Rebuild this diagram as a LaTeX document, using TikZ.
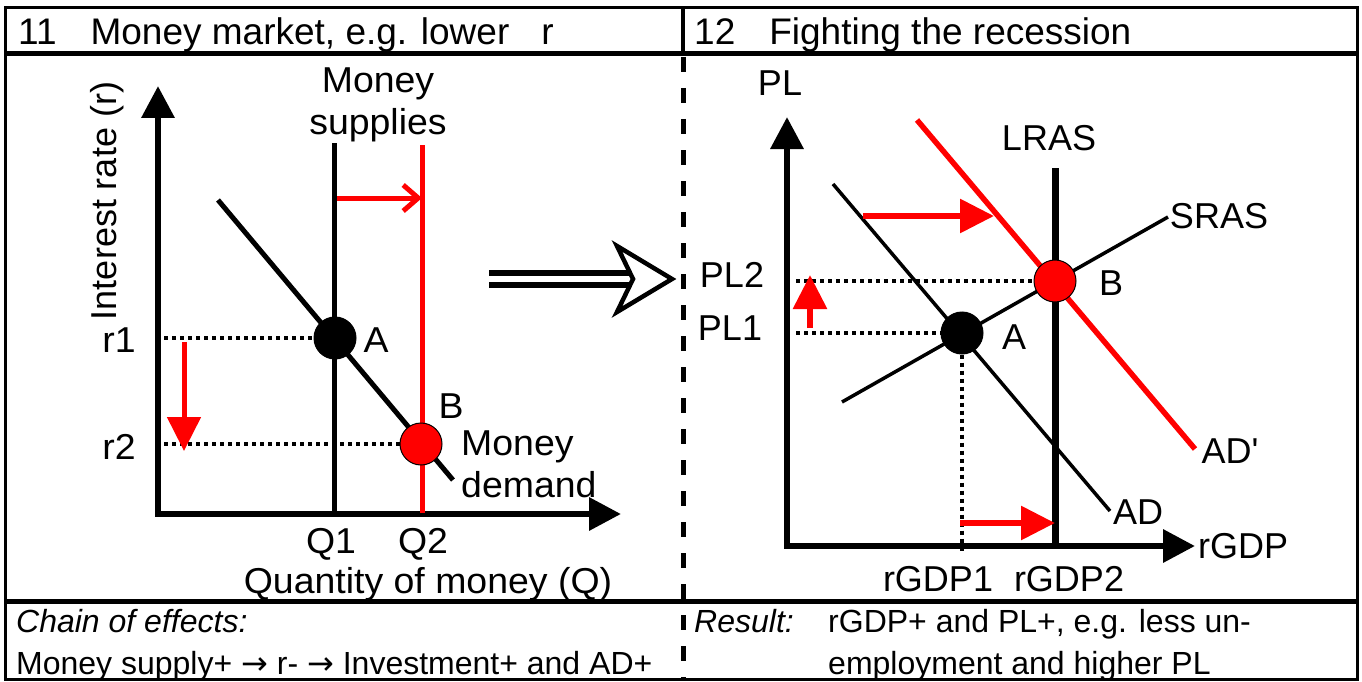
\documentclass[tikz,border=0pt]{standalone}
\usepackage{fontspec}
\setmainfont{Liberation Sans}
\newfontfamily\arrowfont{DejaVu Sans}
\usetikzlibrary{arrows.meta}
\definecolor{shiftred}{RGB}{255,0,0}
\tikzstyle{frameline}=[line width=3pt]
\tikzstyle{axisline}=[line width=6.5pt,-{Triangle[length=32pt,width=32pt]}]
\tikzstyle{thinline}=[line width=3.5pt]
\tikzstyle{thickline}=[line width=5pt]
\tikzstyle{guide}=[line width=3.5pt,dash pattern=on 4pt off 4pt]
\tikzstyle{shiftarrow}=[shiftred,line width=6pt,-{Triangle[length=34pt,width=33pt]}]
\tikzstyle{eqpoint}=[circle,draw=black,line width=1pt,minimum size=42pt,inner sep=0pt]
\tikzstyle{headtext}=[font=\fontsize{37}{44}\selectfont,inner sep=0pt,anchor=base west]
\tikzstyle{chartlabel}=[font=\fontsize{36}{42}\selectfont,inner sep=0pt]
\tikzstyle{widelabel}=[chartlabel,xscale=1.04]
\tikzstyle{notetext}=[font=\fontsize{32}{40}\selectfont,inner sep=0pt,anchor=base west]

\begin{document}
\begin{tikzpicture}[x=1pt,y=-1pt]

\fill[white] (0,0) rectangle (1362,682);
\useasboundingbox (0,0) rectangle (1362,682);

\draw[frameline] (5,8) rectangle (1357,679);
\draw[line width=5pt] (5,54) -- (1357,54);
\draw[line width=5pt] (5,601) -- (1357,601);
\draw[line width=4pt] (683,8) -- (683,54);
\draw[line width=5pt,dash pattern=on 15pt off 16pt] (683,57) -- (683,679);

\node[headtext] (title11) at (18,45) {11\hspace{34pt}Money market, e.g. lower\hspace{32pt}r};
\node[headtext] (title12) at (694,45) {12\hspace{34pt}Fighting the recession};

% money market
\coordinate (O1) at (158,514);
\coordinate (ytop1) at (158,86);
\coordinate (xend1) at (621,514);
\draw[axisline] ([yshift=3pt]O1) -- (ytop1);
\draw[axisline] ([xshift=-3pt]O1) -- (xend1);

\coordinate (ms1top) at (334,143);
\coordinate (ms2top) at (422,145);
\draw[line width=5pt] (ms1top) -- (ms1top |- O1);
\draw[shiftred,line width=5pt] (ms2top) -- ([yshift=1pt]ms2top |- O1);
\draw[thickline] (218,200) -- (453,480);

\node[eqpoint,fill=black] (A1) at (335,338) {};
\node[eqpoint,fill=shiftred] (B1) at (421,444) {};
\draw[guide] (A1 -| O1) ++(6,0) -- (A1);
\draw[guide] (B1 -| O1) ++(6,0) -- (B1);

\draw[shiftarrow,line width=5pt] (184,342) -- (184,451);
\draw[shiftred,line width=5pt,-{Straight Barb[length=15pt,width=26pt]}] (ms1top |- 0,198) ++(3,0) -- (ms2top |- 0,198);

\node[widelabel] (r1) at (119,340) {r1};
\node[widelabel] (r2) at (119,447) {r2};
\node[widelabel] (lblA1) at (376,340) {A};
\node[widelabel] (lblB1) at (451,406) {B};
\node[widelabel,align=left,anchor=west] (mdemand) at (461,464) {Money\\demand};
\node[widelabel,align=center] (msupply) at (378,105) {Money\\supplies};
\node[widelabel] (q1) at (331,544) {Q1};
\node[widelabel] (q2) at (423,544) {Q2};
\node[widelabel] (qlabel) at (428,584) {Quantity of money (Q)};
\node[chartlabel,rotate=90] (rlabel) at (107,201) {Interest rate (r)};

\coordinate (implstart) at (489,279);
\coordinate (impltip) at (672,279);
\draw[line width=6pt,double=white,double distance=6pt] (implstart) -- ([xshift=-38pt]impltip);
\draw[line width=4.5pt,fill=white,line join=miter] (impltip) -- ++(-55,-33) -- ++(16,33) -- ++(-16,33) -- cycle;

% recession
\coordinate (O2) at (787,546);
\coordinate (ytop2) at (787,117);
\coordinate (xend2) at (1195,546);
\draw[axisline] ([yshift=3pt]O2) -- (ytop2);
\draw[axisline] ([xshift=-3pt]O2) -- (xend2);

\coordinate (lrastop) at (1055,168);
\draw[line width=7pt] (lrastop) -- (lrastop |- O2);
\draw[thinline] (833,184) -- (1110,511);
\draw[thinline] (842,402) -- (1168,217);
\draw[shiftred,line width=5.5pt] (917,120) -- (1195,449);

\node[eqpoint,fill=black] (A2) at (962,333) {};
\node[eqpoint,fill=shiftred] (B2) at (1055,281) {};
\draw[guide] (B2 -| O2) ++(9,0) -- (B2);
\draw[guide] (A2 -| O2) ++(9,0) -- (A2);
\draw[guide] (A2) -- ([yshift=-5pt]A2 |- O2);

\draw[shiftarrow] (810,328) -- (810,275);
\draw[shiftarrow] (863,216) -- (994,216);
\draw[shiftarrow] (960,523) -- (lrastop |- 0,523);

\node[chartlabel] (pl) at (780,83) {PL};
\node[chartlabel] (pl2) at (732,275) {PL2};
\node[chartlabel] (pl1) at (730,328) {PL1};
\node[chartlabel] (lblA2) at (1014,337) {A};
\node[chartlabel] (lblB2) at (1111,283) {B};
\node[chartlabel] (lras) at (1049,138) {LRAS};
\node[chartlabel] (sras) at (1219,216) {SRAS};
\node[chartlabel] (adnew) at (1230,451) {AD\textquotesingle};
\node[chartlabel] (ad) at (1138,512) {AD};
\node[chartlabel] (rgdp) at (1243,546) {rGDP};
\node[chartlabel] (rgdp1) at (938,579) {rGDP1};
\node[chartlabel] (rgdp2) at (1069,579) {rGDP2};

\node[notetext] (chainhead) at (16,632) {\itshape Chain of effects:};
\node[notetext] (chain) at (16,674) {Money supply+ {\arrowfont →} r- {\arrowfont →} Investment+ and AD+};
\node[notetext] (resulthead) at (694,632) {\itshape Result:};
\node[notetext] (result1) at (828,632) {rGDP+ and PL+, e.g. less un-};
\node[notetext] (result2) at (828,674) {employment and higher PL};

\end{tikzpicture}
\end{document}
